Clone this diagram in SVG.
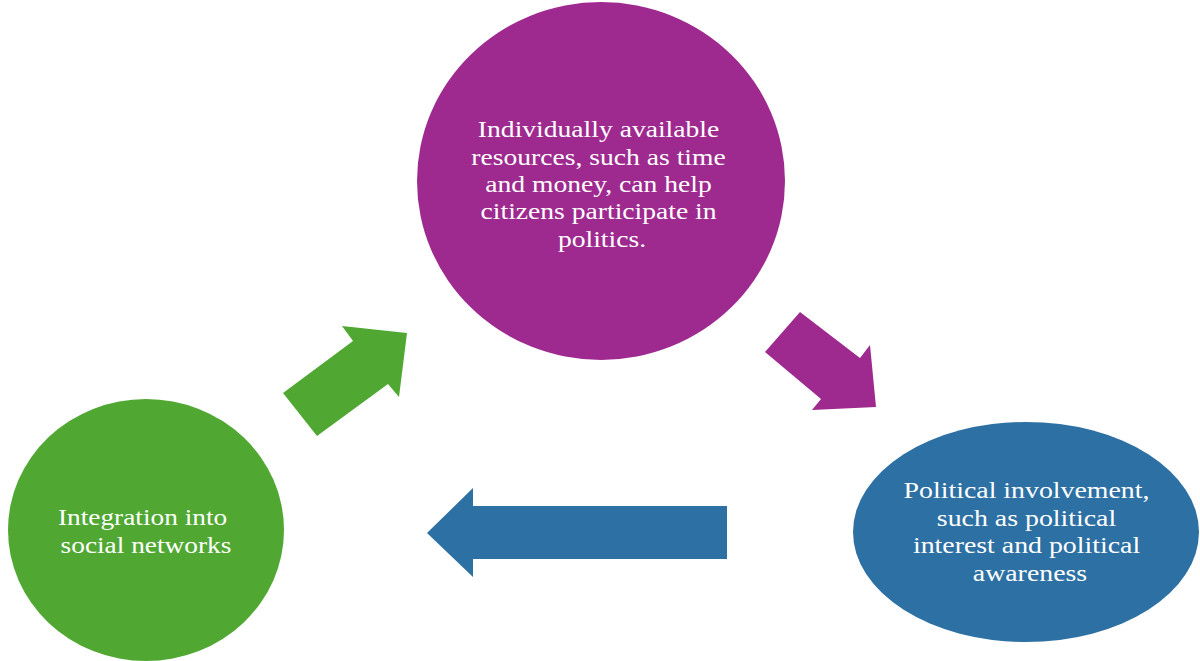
<svg xmlns="http://www.w3.org/2000/svg" width="1200" height="661" viewBox="0 0 1200 661">
  <style>
    .label { font-family: "Liberation Serif", "Times New Roman", serif; font-size: 24px; fill: #ffffff; text-anchor: middle; }
    .purple { fill: #9E2A8F; }
    .green { fill: #50A833; }
    .blue { fill: #2D70A3; }
  </style>
  <rect width="1200" height="661" fill="#ffffff"/>

  <!-- connectors: block arrows between the stages -->
  <g id="connectors">
    <polygon class="green" points="283,393 353,341 342,326 407,333 399,397 388,384 317,436"/>
    <polygon class="purple" points="800,312 860,358 870,345 876,407 812,410 821,399 765,352"/>
    <polygon class="blue" points="427,533 473,488 473,506 727,506 727,559 473,559 473,577"/>
  </g>

  <g id="resources">
    <ellipse class="purple" cx="601" cy="181" rx="184" ry="179"/>
    <text class="label" transform="translate(602 0) scale(1.15 1)">
      <tspan x="0" y="137">Individually available</tspan>
      <tspan x="0" y="165">resources, such as time</tspan>
      <tspan x="0" y="192">and money, can help</tspan>
      <tspan x="0" y="219">citizens participate in</tspan>
      <tspan x="0" y="247">politics.</tspan>
    </text>
  </g>

  <g id="involvement">
    <ellipse class="blue" cx="1026" cy="532" rx="173" ry="110"/>
    <text class="label" transform="translate(1030 0) scale(1.16 1)">
      <tspan x="0" y="498">Political involvement,</tspan>
      <tspan x="0" y="526">such as political</tspan>
      <tspan x="0" y="553">interest and political</tspan>
      <tspan x="0" y="581">awareness</tspan>
    </text>
  </g>

  <g id="networks">
    <ellipse class="green" cx="146" cy="530" rx="138" ry="131"/>
    <text class="label" transform="translate(146 0) scale(1.14 1)">
      <tspan x="0" y="525">Integration into</tspan>
      <tspan x="0" y="553">social networks</tspan>
    </text>
  </g>
</svg>
